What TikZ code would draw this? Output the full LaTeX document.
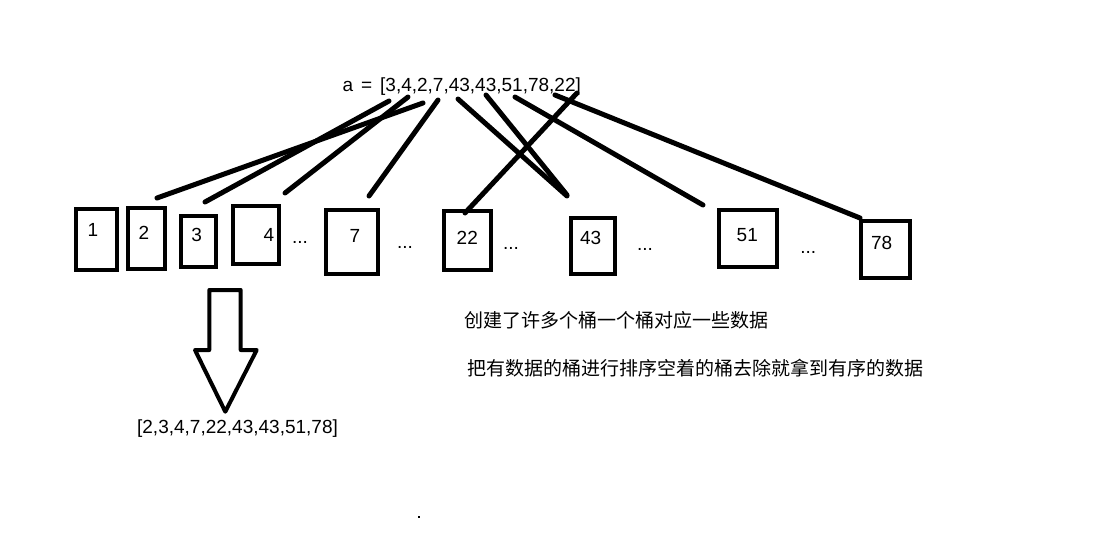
\documentclass[tikz,border=0pt]{standalone}
\usepackage{fontspec}
\setmainfont{Liberation Sans}
\newfontfamily\cjk{Noto Sans CJK SC}
\begin{document}
\begin{tikzpicture}[x=1pt,y=-1pt,
  bucket/.style={draw, line width=4pt, inner sep=0pt},
  lbl/.style={font=\fontsize{19}{23}\selectfont, inner sep=0pt},
  cjklbl/.style={font=\cjk\fontsize{19}{23}\selectfont, inner sep=0pt},
  link/.style={line width=5pt, line cap=round},
  bigarrow/.style={draw, line width=4pt, line join=round}]
\fill[white] (0,0) rectangle (1110,549);
\useasboundingbox (0,0) rectangle (1110,549);

% input array
\node[lbl] (arr) at (461.7,86.7) {a\hspace{8pt}=\hspace{8pt}[3,4,2,7,43,43,51,78,22]};
\coordinate (s3) at (389,101);
\coordinate (s4) at (408,97);
\coordinate (s2) at (423,103);
\coordinate (s7) at (438,100);
\coordinate (s43a) at (458,99);
\coordinate (s43b) at (486,95);
\coordinate (s51) at (515,97);
\coordinate (s78) at (555,95);
\coordinate (s22) at (577,93);

% buckets
\node[bucket, minimum width=41pt, minimum height=61pt] (b1) at (96.5,239.5) {};
\node[bucket, minimum width=36.4pt, minimum height=61pt] (b2) at (146.5,238.2) {};
\node[bucket, minimum width=34.7pt, minimum height=51pt] (b3) at (198.3,241.5) {};
\node[bucket, minimum width=45.7pt, minimum height=57.4pt] (b4) at (255.8,235) {};
\node[bucket, minimum width=52pt, minimum height=63.4pt] (b7) at (352,242) {};
\node[bucket, minimum width=47pt, minimum height=59.3pt] (b22) at (467.8,240.7) {};
\node[bucket, minimum width=43.4pt, minimum height=56pt] (b43) at (593,246) {};
\node[bucket, minimum width=57.7pt, minimum height=56.7pt] (b51) at (748.2,238.7) {};
\node[bucket, minimum width=49pt, minimum height=56.7pt] (b78) at (885.5,249.7) {};

\node[lbl] (l1) at (93,230) {1};
\node[lbl] (l2) at (144,233) {2};
\node[lbl] (l3) at (196.7,235) {3};
\node[lbl] (l4) at (269,235) {4};
\node[lbl] (l7) at (355,236) {7};
\node[lbl] (l22) at (467.3,238.3) {22};
\node[lbl] (l43) at (590.7,238.3) {43};
\node[lbl] (l51) at (747.3,235) {51};
\node[lbl] (l78) at (881.7,242.7) {78};

\node[lbl] (d1) at (300,242.7) {...};
\node[lbl] (d2) at (405,247) {...};
\node[lbl] (d3) at (511,248.3) {...};
\node[lbl] (d4) at (645,249) {...};
\node[lbl] (d5) at (808.3,252.3) {...};

% connector ends
\coordinate (e2) at (157,198);
\coordinate (e3) at (205,202);
\coordinate (e4) at (285,193);
\coordinate (e7) at (369,196);
\coordinate (e22) at (465,213);
\coordinate (e43a) at (567,196);
\coordinate (e43b) at (567,195);
\coordinate (e51) at (703,205);
\coordinate (e78) at (860,218);

\draw[link] (s3) -- (e3);
\draw[link] (s4) -- (e4);
\draw[link] (s2) -- (e2);
\draw[link] (s7) -- (e7);
\draw[link] (s43a) -- (e43a);
\draw[link] (s43b) -- (e43b);
\draw[link] (s51) -- (e51);
\draw[link] (s78) -- (e78);
\draw[link] (s22) -- (e22);

% big down arrow
\draw[bigarrow] (209.3,290) -- (240.7,290) -- (240.7,350) -- (256.7,350)
  -- (225.3,411.7) -- (195,350) -- (209.3,350) -- cycle;

\node[lbl] (res) at (237.5,428.5) {[2,3,4,7,22,43,43,51,78]};

% notes
\node[cjklbl] (n1) at (616.5,320) {创建了许多个桶一个桶对应一些数据};
\node[cjklbl] (n2) at (695.8,368.3) {把有数据的桶进行排序空着的桶去除就拿到有序的数据};

\fill (418,516) rectangle (420,518);
\end{tikzpicture}
\end{document}
